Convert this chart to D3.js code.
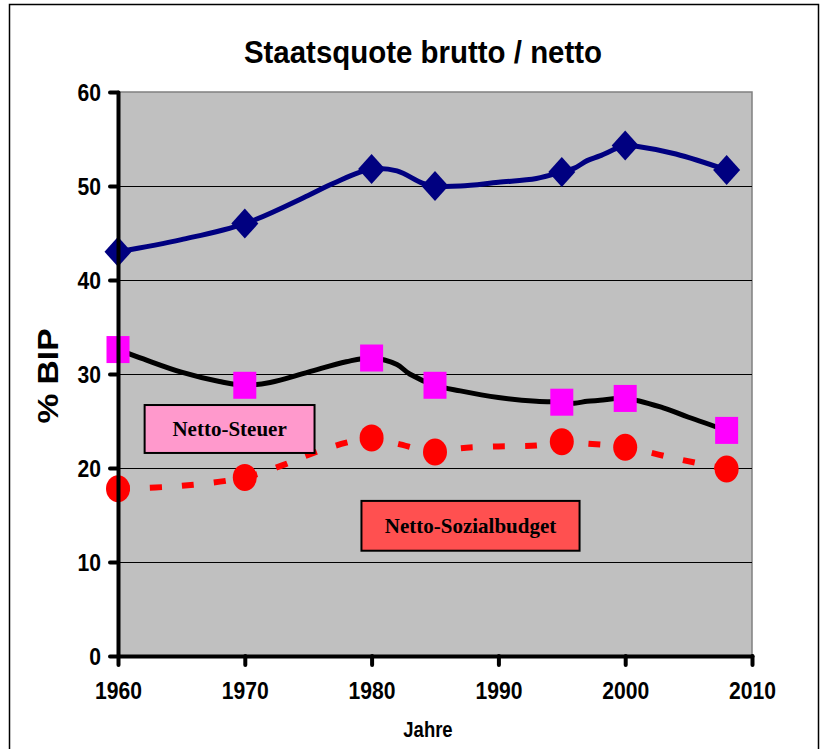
<!DOCTYPE html>
<html>
<head>
<meta charset="utf-8">
<script src="https://cdn.jsdelivr.net/npm/d3@7"></script>
<style>
  body { margin: 0; background: #fff; }
  svg { display: block; }
</style>
</head>
<body>
<svg width="822" height="749"></svg>
<script>
// Daten
const bruttoYears  = [1960, 1965, 1970, 1975, 1977, 1980, 1982, 1984, 1985, 1987, 1990, 1993, 1995, 1996, 1997, 1998, 2000, 2001, 2004, 2008];
const bruttoValues = [43.0, 44.3, 46.0, 49.0, 50.3, 51.8, 51.6, 50.3, 50.0, 50.0, 50.4, 50.8, 51.5, 51.9, 52.7, 53.2, 54.3, 54.2, 53.4, 51.7];

const steuerYears  = [1960, 1962, 1965, 1968, 1970, 1972, 1975, 1978, 1980, 1982, 1983, 1985, 1987, 1990, 1993, 1995, 1996, 1997, 1998, 2000, 2003, 2005, 2008];
const steuerValues = [32.6, 31.6, 30.2, 29.2, 28.8, 29.1, 30.2, 31.3, 31.7, 31.0, 30.0, 28.8, 28.2, 27.5, 27.1, 27.0, 26.9, 27.1, 27.2, 27.4, 26.4, 25.4, 24.0];

const sozialYears  = [1960, 1965, 1970, 1973, 1975, 1978, 1980, 1982, 1985, 1987, 1990, 1993, 1995, 1997, 2000, 2004, 2008];
const sozialValues = [17.8, 18.1, 19.0, 20.3, 21.4, 22.7, 23.2, 22.6, 21.7, 22.1, 22.3, 22.4, 22.8, 22.6, 22.2, 21.0, 19.9];

const markerYears = [1960, 1970, 1980, 1985, 1995, 2000, 2008];

const xTicks = [1960, 1970, 1980, 1990, 2000, 2010];
const yTicks = [0, 10, 20, 30, 40, 50, 60];

const titleText = "Staatsquote brutto / netto";
const xLabel = "Jahre";
const yLabel = "% BIP";

// Beschriftungskästen (in Datenkoordinaten)
const boxLabels = ["Netto-Steuer", "Netto-Sozialbudget"];
const boxX0 = [1962.1, 1979.2];
const boxX1 = [1975.5, 1996.4];
const boxY0 = [26.7, 16.5];
const boxY1 = [21.6, 11.2];
const boxFill = ["#FF99CC", "#FF5050"];

const svg = d3.select("svg");
const margin = { top: 92, right: 70, bottom: 93, left: 118 };
const W = 822, H = 749;

const x = d3.scaleLinear().domain([1960, 2010]).range([margin.left, W - margin.right]);
const y = d3.scaleLinear().domain([0, 60]).range([H - margin.bottom, margin.top]);

// schmale Schrift wie im Original (Text horizontal stauchen)
function condense(sel, f) {
  sel.each(function() {
    const w = this.getComputedTextLength();
    d3.select(this).attr("textLength", w * f).attr("lengthAdjust", "spacingAndGlyphs");
  });
}

// Rahmen
svg.append("rect")
  .attr("x", 9.5).attr("y", 4.5).attr("width", 809).attr("height", 770)
  .attr("fill", "#fff").attr("stroke", "#000").attr("stroke-width", 1.5);

// Titel
svg.append("text")
  .attr("x", 423).attr("y", 63)
  .attr("text-anchor", "middle")
  .style("font-family", "'Liberation Sans', Arial, sans-serif")
  .style("font-weight", "bold")
  .style("font-size", "32px")
  .text(titleText)
  .call(condense, 0.92);

// Plotfläche
svg.append("rect")
  .attr("x", x(1960)).attr("y", y(60))
  .attr("width", x(2010) - x(1960)).attr("height", y(0) - y(60))
  .attr("fill", "#C0C0C0").attr("stroke", "#808080").attr("stroke-width", 1.5);

// Gitterlinien
svg.append("g")
  .attr("transform", "translate(" + x(1960) + ",0)")
  .call(d3.axisLeft(y).tickValues(yTicks.filter(d => d > 0 && d < 60)).tickSize(-(x(2010) - x(1960))).tickFormat(""))
  .call(g => g.select(".domain").remove())
  .selectAll("line").attr("stroke", "#000").attr("stroke-width", 1);

// Linien
const line = d3.line().x(d => x(d[0])).y(d => y(d[1])).curve(d3.curveCatmullRom.alpha(0.5));

svg.append("path")
  .datum(d3.zip(sozialYears, sozialValues))
  .attr("d", line)
  .attr("fill", "none").attr("stroke", "#FF0000").attr("stroke-width", 6)
  .attr("stroke-dasharray", "12,20");

svg.append("path")
  .datum(d3.zip(steuerYears, steuerValues))
  .attr("d", line)
  .attr("fill", "none").attr("stroke", "#000").attr("stroke-width", 5);

svg.append("path")
  .datum(d3.zip(bruttoYears, bruttoValues))
  .attr("d", line)
  .attr("fill", "none").attr("stroke", "#000080").attr("stroke-width", 5);

// Marker
function valueAt(years, values, yr) { return values[years.indexOf(yr)]; }

svg.append("g").selectAll("ellipse")
  .data(markerYears)
  .join("ellipse")
  .attr("cx", d => x(d)).attr("cy", d => y(valueAt(sozialYears, sozialValues, d)))
  .attr("rx", 12).attr("ry", 13.5)
  .attr("fill", "#FF0000");

svg.append("g").selectAll("rect")
  .data(markerYears)
  .join("rect")
  .attr("x", d => x(d) - 11.5).attr("y", d => y(valueAt(steuerYears, steuerValues, d)) - 13.5)
  .attr("width", 23).attr("height", 27)
  .attr("fill", "#FF00FF");

svg.append("g").selectAll("path")
  .data(markerYears)
  .join("path")
  .attr("transform", d => "translate(" + x(d) + "," + y(valueAt(bruttoYears, bruttoValues, d)) + ")")
  .attr("d", "M0,-15L13.5,0L0,15L-13.5,0Z")
  .attr("fill", "#000080");

// Achsen
const yAxis = svg.append("g")
  .attr("transform", "translate(" + x(1960) + ",0)")
  .call(d3.axisLeft(y).tickValues(yTicks).tickSize(8).tickSizeOuter(0).tickPadding(9));

const xAxis = svg.append("g")
  .attr("transform", "translate(0," + y(0) + ")")
  .call(d3.axisBottom(x).tickValues(xTicks).tickSize(9).tickSizeOuter(0).tickPadding(17).tickFormat(d3.format("d")));

[yAxis, xAxis].forEach(function(ax) {
  ax.select(".domain").attr("stroke", "#000").attr("stroke-width", 4).attr("stroke-linecap", "round");
  ax.selectAll(".tick line").attr("stroke", "#000").attr("stroke-width", 4).attr("stroke-linecap", "round");
  ax.selectAll(".tick text")
    .attr("fill", "#000")
    .style("font-family", "'Liberation Sans', Arial, sans-serif")
    .style("font-weight", "bold")
    .style("font-size", "24px")
    .call(condense, 0.88);
});
yAxis.selectAll(".tick text").attr("dy", "0.36em");

// Achsentitel
svg.append("text")
  .attr("x", 428).attr("y", 737)
  .attr("text-anchor", "middle")
  .style("font-family", "'Liberation Sans', Arial, sans-serif")
  .style("font-weight", "bold")
  .style("font-size", "22px")
  .text(xLabel)
  .call(condense, 0.84);

svg.append("text")
  .attr("transform", "translate(58,376) rotate(-90)")
  .attr("text-anchor", "middle")
  .attr("textLength", 95).attr("lengthAdjust", "spacingAndGlyphs")
  .style("font-family", "'Liberation Sans', Arial, sans-serif")
  .style("font-weight", "bold")
  .style("font-size", "29px")
  .text(yLabel);

// Beschriftungskästen
const boxes = svg.append("g").selectAll("g")
  .data(boxLabels)
  .join("g");

boxes.append("rect")
  .attr("x", (d, i) => x(boxX0[i])).attr("y", (d, i) => y(boxY0[i]))
  .attr("width", (d, i) => x(boxX1[i]) - x(boxX0[i]))
  .attr("height", (d, i) => y(boxY1[i]) - y(boxY0[i]))
  .attr("fill", (d, i) => boxFill[i])
  .attr("stroke", "#000").attr("stroke-width", 2);

boxes.append("text")
  .attr("x", (d, i) => (x(boxX0[i]) + x(boxX1[i])) / 2)
  .attr("y", (d, i) => (y(boxY0[i]) + y(boxY1[i])) / 2)
  .attr("dy", "0.35em")
  .attr("text-anchor", "middle")
  .style("font-family", "'Liberation Serif', 'Times New Roman', serif")
  .style("font-weight", "bold")
  .style("font-size", "21px")
  .text(d => d);
</script>
</body>
</html>
